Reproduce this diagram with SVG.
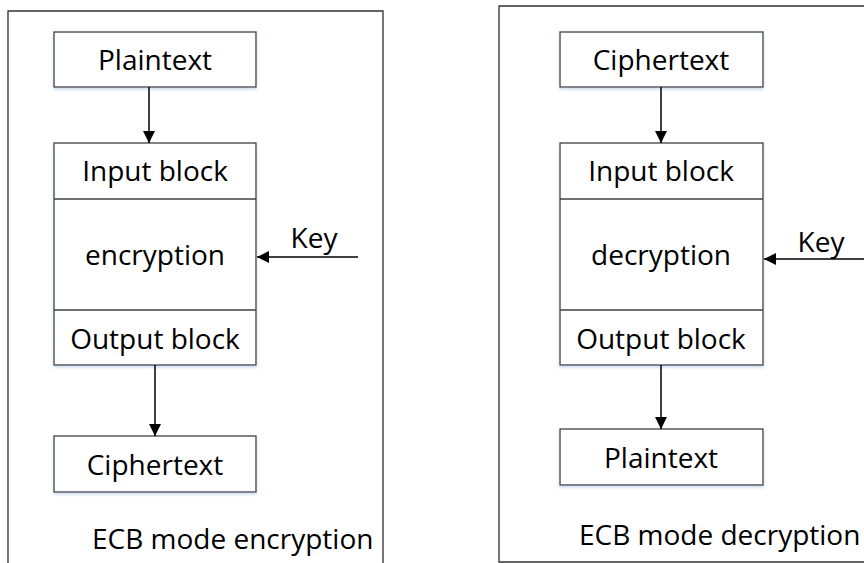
<svg xmlns="http://www.w3.org/2000/svg" width="864" height="563" viewBox="0 0 864 563">
<defs>
<marker id="ah" viewBox="0 0 12 12" refX="12" refY="6" markerWidth="12" markerHeight="12" markerUnits="userSpaceOnUse" orient="auto">
<path d="M0,0 L12,6 L0,12 z" fill="#000"/>
</marker>
<filter id="sh" x="-5%" y="-10%" width="110%" height="130%">
<feGaussianBlur in="SourceAlpha" stdDeviation="1.5"/>
<feOffset dx="0" dy="2" result="b"/>
<feFlood flood-color="#9db8e0" flood-opacity="0.5"/>
<feComposite in2="b" operator="in"/>
<feMerge><feMergeNode/><feMergeNode in="SourceGraphic"/></feMerge>
</filter>
</defs>
<style>
.frame{fill:none;stroke:#303030;stroke-width:1.3}
.box{fill:#fff;stroke:#404040;stroke-width:1.3}
.sep{stroke:#404040;stroke-width:1.3}
.t{font-family:"Open Sans",sans-serif;font-size:28px;fill:#000;text-anchor:middle}
.tl{font-family:"Open Sans",sans-serif;font-size:28px;fill:#000;text-anchor:start}
.c{stroke:#000;stroke-width:1.5;fill:none;marker-end:url(#ah)}
</style>
<rect width="864" height="563" fill="#fff"/>
<g id="frame-enc">
<path class="frame" d="M8,570 V11 H383 V570"/>
<text class="tl" x="92" y="549">ECB mode encryption</text>
</g>
<g id="frame-dec">
<path class="frame" d="M870,6 H499 V562 H870"/>
<text class="tl" x="579" y="545">ECB mode decryption</text>
</g>
<g id="enc-plaintext"><rect class="box" filter="url(#sh)" x="54" y="32" width="202" height="55"/><text class="t" x="155" y="70">Plaintext</text></g>
<g id="enc-cipher">
<rect class="box" filter="url(#sh)" x="54" y="143" width="202" height="222"/>
<line class="sep" x1="54" y1="199" x2="256" y2="199"/>
<line class="sep" x1="54" y1="310" x2="256" y2="310"/>
<text class="t" x="155" y="181">Input block</text>
<text class="t" x="155" y="265">encryption</text>
<text class="t" x="155" y="349">Output block</text></g>
<g id="enc-ciphertext"><rect class="box" filter="url(#sh)" x="54" y="436" width="202" height="56"/><text class="t" x="155" y="475">Ciphertext</text></g>
<g id="enc-key"><text class="t" x="314" y="248">Key</text></g>
<g id="dec-ciphertext"><rect class="box" filter="url(#sh)" x="560" y="32" width="203" height="55"/><text class="t" x="661" y="70">Ciphertext</text></g>
<g id="dec-cipher"><rect class="box" filter="url(#sh)" x="560" y="143" width="203" height="222"/>
<line class="sep" x1="560" y1="199" x2="763" y2="199"/>
<line class="sep" x1="560" y1="310" x2="763" y2="310"/>
<text class="t" x="661" y="181">Input block</text>
<text class="t" x="661" y="265">decryption</text>
<text class="t" x="661" y="349">Output block</text></g>
<g id="dec-plaintext"><rect class="box" filter="url(#sh)" x="560" y="429" width="203" height="56"/><text class="t" x="661" y="468">Plaintext</text></g>
<g id="dec-key"><text class="t" x="821" y="252">Key</text></g>
<g id="connectors">
<line class="c" x1="149" y1="87" x2="149" y2="143"/>
<line class="c" x1="155" y1="365" x2="155" y2="436"/>
<line class="c" x1="358" y1="257" x2="257" y2="257"/>
<line class="c" x1="661" y1="87" x2="661" y2="143"/>
<line class="c" x1="661" y1="365" x2="661" y2="429"/>
<line class="c" x1="866" y1="259" x2="764" y2="259"/>
</g>
</svg>
